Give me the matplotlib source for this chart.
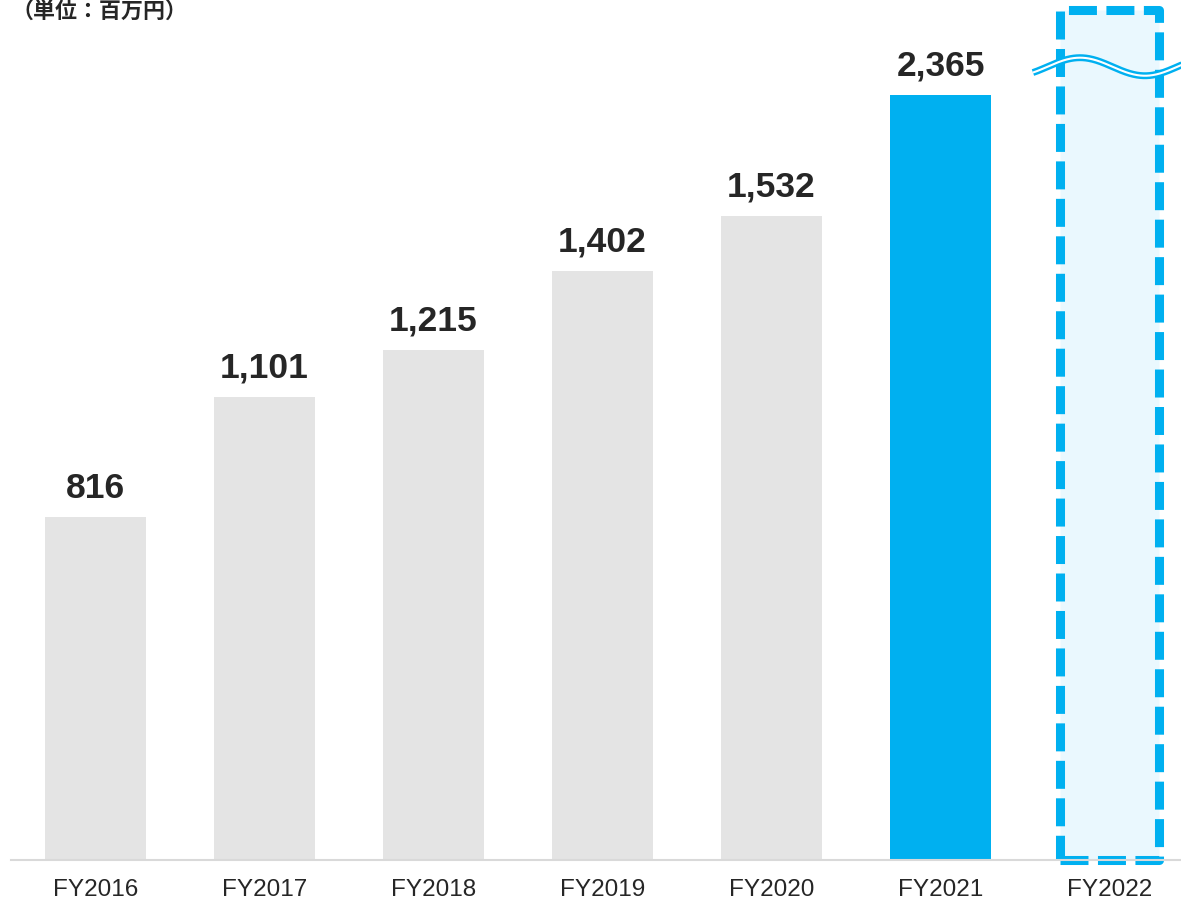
import matplotlib
matplotlib.use("Agg")
import matplotlib.pyplot as plt
import matplotlib.transforms as mtransforms
from matplotlib.patches import Rectangle
import numpy as np

# 売上データ（単位：百万円）
years = ["FY2016", "FY2017", "FY2018", "FY2019", "FY2020", "FY2021", "FY2022"]
values = [816, 1101, 1215, 1402, 1532, 2365]
bar_colors = ["#E4E4E4", "#E4E4E4", "#E4E4E4", "#E4E4E4", "#E4E4E4", "#00B0F0"]

BLUE = "#00B0F0"
TEXT = "#262626"
Y_TOP = 1821  # 省略線より上は切る

plt.rcParams['font.family'] = ['Liberation Sans', 'DejaVu Sans']

fig = plt.figure(figsize=(11.81, 9.02), dpi=100)
ax = fig.add_axes([0.00931, 0.04656, 0.99069, 0.8481])

x = np.arange(len(years))
ax.bar(x[:len(values)], values, width=0.6, color=bar_colors, zorder=2)

# 数値ラベル（切れた棒は上端に合わせる）
for xi, v in zip(x, values):
    ax.annotate(f"{v:,}", xy=(xi, min(v, Y_TOP)), xytext=(0, 29),
                textcoords="offset pixels", ha="center", va="center",
                fontsize=25.5, fontweight="bold", color=TEXT,
                annotation_clip=False)

# FY2022 の点線枠
blend = mtransforms.blended_transform_factory(ax.transData, ax.transAxes)
box = Rectangle((x[6] - 0.295, 0), 0.59, 1.1105, transform=blend,
                facecolor="#EAF8FE", edgecolor=BLUE, linewidth=6.5,
                linestyle=(0, (3.1, 1.05)), joinstyle="round",
                clip_on=False, zorder=3)
ax.add_patch(box)

# 省略の波線
wx = np.linspace(5.547, 6.45, 200)
wy = 1.037 + 0.0118 * np.sin(2 * np.pi * (wx - 5.633) / 0.769)
ax.plot(wx, wy, color=BLUE, lw=5.0, transform=blend, clip_on=False,
        solid_capstyle="butt", zorder=4)
ax.plot(wx, wy, color="white", lw=1.5, transform=blend, clip_on=False,
        solid_capstyle="butt", zorder=5)

ax.set_xlim(-0.5, 6.423)
ax.set_ylim(0, Y_TOP)
ax.set_xticks(x)
ax.set_xticklabels(years, fontsize=17.5, color=TEXT)
ax.tick_params(axis="x", length=0, pad=14)
ax.set_yticks([])
for side in ["top", "right", "left"]:
    ax.spines[side].set_visible(False)
ax.spines["bottom"].set_color("#D9D9D9")
ax.spines["bottom"].set_linewidth(1.5)
ax.spines["bottom"].set_zorder(6)

fig.text(0.01, 0.9867, "（単位：百万円）", fontsize=15.8, fontweight="bold",
         color=TEXT, va="center", ha="left",
         family=["Noto Sans CJK JP", "DejaVu Sans"])

fig.savefig("out.png", dpi=100)
